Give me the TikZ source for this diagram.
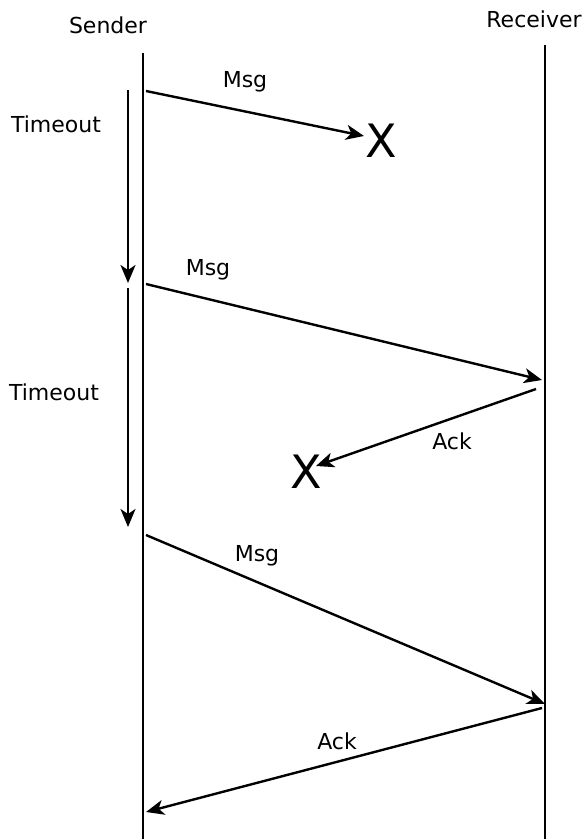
\documentclass[tikz,border=0pt]{standalone}
\usepackage{fontspec}
\setmainfont{DejaVu Sans}
\usetikzlibrary{arrows.meta}
\begin{document}
\begin{tikzpicture}[x=1pt,y=-1pt,
  lifeline/.style={line width=2.4pt},
  msgarrow/.style={line width=2.4pt,-{Stealth[length=18pt,width=15pt,inset=5pt]}},
  lbl/.style={font=\fontsize{22}{26}\selectfont,inner sep=0pt},
  lost/.style={font=\fontsize{46}{52}\selectfont,inner sep=0pt}]
\useasboundingbox (0,0) rectangle (584,839);
% headers
\node[lbl] (sender) at (108,25) {Sender};
\node[lbl] (receiver) at (534,19) {Receiver};
% lifelines
\coordinate (sTop) at (143,53);
\coordinate (sBot) at (143,839);
\coordinate (rTop) at (545,45);
\coordinate (rBot) at (545,839);
\draw[lifeline] (sTop) -- (sBot);
\draw[lifeline] (rTop) -- (rBot);
% timeouts
\coordinate (t1a) at (128,90);
\coordinate (t1b) at (128,283);
\coordinate (t2a) at (128,288);
\coordinate (t2b) at (128,527);
\draw[msgarrow] (t1a) -- (t1b);
\draw[msgarrow] (t2a) -- (t2b);
\node[lbl] (to1) at (56,124) {Timeout};
\node[lbl] (to2) at (54,392) {Timeout};
% msg 1 (lost)
\coordinate (m1a) at (146,91);
\node[lost] (x1) at (381,141) {X};
\coordinate (m1b) at (364,136);
\draw[msgarrow] (m1a) -- (m1b);
\node[lbl] (m1l) at (245,82) {Msg};
% msg 2
\coordinate (m2a) at (146,284);
\coordinate (m2b) at (542,380);
\draw[msgarrow] (m2a) -- (m2b);
\node[lbl] (m2l) at (208,270) {Msg};
% ack 1 (lost)
\coordinate (a1a) at (536,389);
\node[lost] (x2) at (306,472) {X};
\coordinate (a1b) at (316,466);
\draw[msgarrow] (a1a) -- (a1b);
\node[lbl] (a1l) at (452,441) {Ack};
% msg 3
\coordinate (m3a) at (146,535);
\coordinate (m3b) at (545,704);
\draw[msgarrow] (m3a) -- (m3b);
\node[lbl] (m3l) at (257,556) {Msg};
% ack 2
\coordinate (a2a) at (542,708);
\coordinate (a2b) at (146,812);
\draw[msgarrow] (a2a) -- (a2b);
\node[lbl] (a2l) at (337,741) {Ack};
\end{tikzpicture}
\end{document}
